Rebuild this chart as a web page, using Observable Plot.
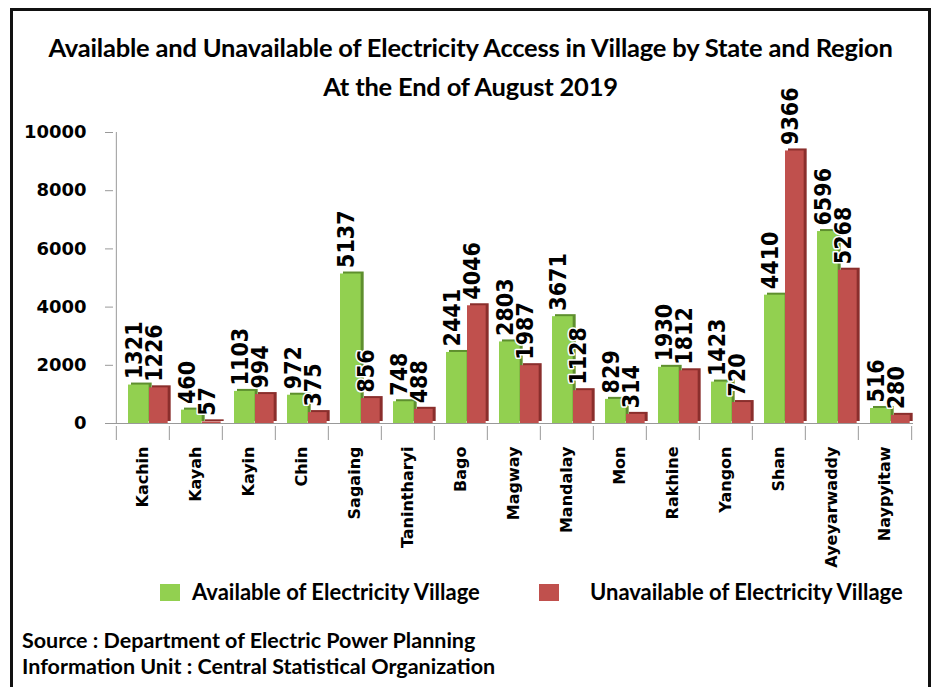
<!DOCTYPE html>
<html><head><meta charset="utf-8">
<script src="https://cdn.jsdelivr.net/npm/d3@7"></script>
<script src="https://cdn.jsdelivr.net/npm/@observablehq/plot@0.6"></script>
<style>
html,body{margin:0;padding:0;background:#fff}
body{width:941px;height:687px;overflow:hidden;position:relative;font-family:Lato,"Open Sans",sans-serif;color:#000}
#frame{position:absolute;left:10px;top:8px;width:921px;height:720px;border:3px solid #111;box-sizing:border-box}
.t{position:absolute;left:0;width:941px;text-align:center;font-weight:bold;font-size:25.5px;line-height:30px;white-space:nowrap;letter-spacing:-0.2px}
#chart{position:absolute;left:0;top:90px}
.sw{position:absolute;width:20px;height:17px}
.lt{position:absolute;font-weight:bold;font-size:22px;line-height:26px;white-space:nowrap}
.src{position:absolute;left:22px;font-weight:bold;font-size:21.5px;line-height:27px;white-space:nowrap}
</style></head><body>
<div id="frame"></div>
<div class="t" id="title" style="top:32px">Available and Unavailable of Electricity Access in Village by State and Region</div>
<div class="t" id="sub" style="top:71px">At the End of August 2019</div>
<div id="chart"></div>
<div id="legend"></div>
<div class="src" style="top:627px">Source : Department of Electric Power Planning</div>
<div class="src" style="top:653px">Information Unit : Central Statistical Organization</div>
<script>
const states = ["Kachin","Kayah","Kayin","Chin","Sagaing","Tanintharyi","Bago","Magway","Mandalay","Mon","Rakhine","Yangon","Shan","Ayeyarwaddy","Naypyitaw"];
const available = [1321,460,1103,972,5137,748,2441,2803,3671,829,1930,1423,4410,6596,516];
const unavailable = [1226,57,994,375,856,488,4046,1987,1128,314,1812,720,9366,5268,280];
const yTicks = [0,2000,4000,6000,8000,10000];
const seriesNames = ["Available of Electricity Village","Unavailable of Electricity Village"];
const seriesColors = ["#92d050","#c0504d"];
const sideColors = ["#5e8f2e","#8a2e2c"];

const rowsA = states.map((s,i)=>({state:s, series:seriesNames[0], value:available[i]}));
const rowsU = states.map((s,i)=>({state:s, series:seriesNames[1], value:unavailable[i]}));

const W = 941, mL = 113, mR = 28;
const bw = (W - mL - mR) / states.length;
const labelFont = "'Liberation Sans Narrow','Arial Narrow','DejaVu Sans Condensed',sans-serif";

const chart = Plot.plot({
  width: W, height: 420,
  marginLeft: mL, marginRight: mR, marginTop: 42, marginBottom: 70,
  x: {domain: states, padding: 0, axis: null, label: null},
  y: {domain: [0, 10000], range: [333, 42], axis: null, label: null},
  style: {background: "transparent", overflow: "visible"},
  marks: [
    Plot.ruleX(states, {x: d => d, dx: -bw/2, stroke: "#999", insetTop: 294}),
    Plot.ruleX([states[states.length-1]], {x: d => d, dx: bw/2, stroke: "#999", insetTop: 294}),
    Plot.ruleX([states[0]], {x: d => d, dx: -bw/2, stroke: "#999", insetBottom: 16}),
    Plot.ruleY([0], {stroke: "#999"}),
    Plot.axisY({ticks: yTicks, tickSize: 8, tickPadding: 19, tickFormat: d => String(d), label: null,
      fontSize: 18, fontWeight: "bold", fontFamily: "'DejaVu Sans',sans-serif", stroke: "#999", fill: "#000"}),
    Plot.axisX({tickSize: 0, tickPadding: 6, tickRotate: -90, fontSize: 16, fontWeight: "bold", label: null,
      fontFamily: "'DejaVu Sans',sans-serif", fill: "#000"}),
    Plot.barY(rowsA, {x: "state", y: "value", fill: sideColors[0], insetLeft: 12, insetRight: bw - 33, dx: 3, dy: -2}),
    Plot.barY(rowsA, {x: "state", y: "value", fill: seriesColors[0], insetLeft: 12, insetRight: bw - 33}),
    Plot.barY(rowsU, {x: "state", y: "value", fill: sideColors[1], insetLeft: 33, insetRight: bw - 52, dx: 3, dy: -2}),
    Plot.barY(rowsU, {x: "state", y: "value", fill: seriesColors[1], insetLeft: 33, insetRight: bw - 52}),
    Plot.text(rowsA, {x: "state", y: "value", text: d => String(d.value), rotate: -90, textAnchor: "start",
      dx: -8, dy: -6, fontSize: 23, fontWeight: "bold", fontFamily: labelFont, fill: "#000", stroke: "#fff", strokeWidth: 3}),
    Plot.text(rowsU, {x: "state", y: "value", text: d => String(d.value), rotate: -90, textAnchor: "start",
      dx: 12, dy: -6, fontSize: 23, fontWeight: "bold", fontFamily: labelFont, fill: "#000", stroke: "#fff", strokeWidth: 3})
  ]
});
document.getElementById("chart").appendChild(chart);

const legend = document.getElementById("legend");
const legPos = [{sw:160, tx:192}, {sw:539, tx:590}];
seriesNames.forEach((name,i)=>{
  const s = document.createElement("div");
  s.className = "sw"; s.style.left = legPos[i].sw + "px"; s.style.top = "584px"; s.style.background = seriesColors[i];
  legend.appendChild(s);
  const t = document.createElement("div");
  t.className = "lt"; t.style.left = legPos[i].tx + "px"; t.style.top = "579px"; t.textContent = name;
  legend.appendChild(t);
});
</script>
</body></html>
